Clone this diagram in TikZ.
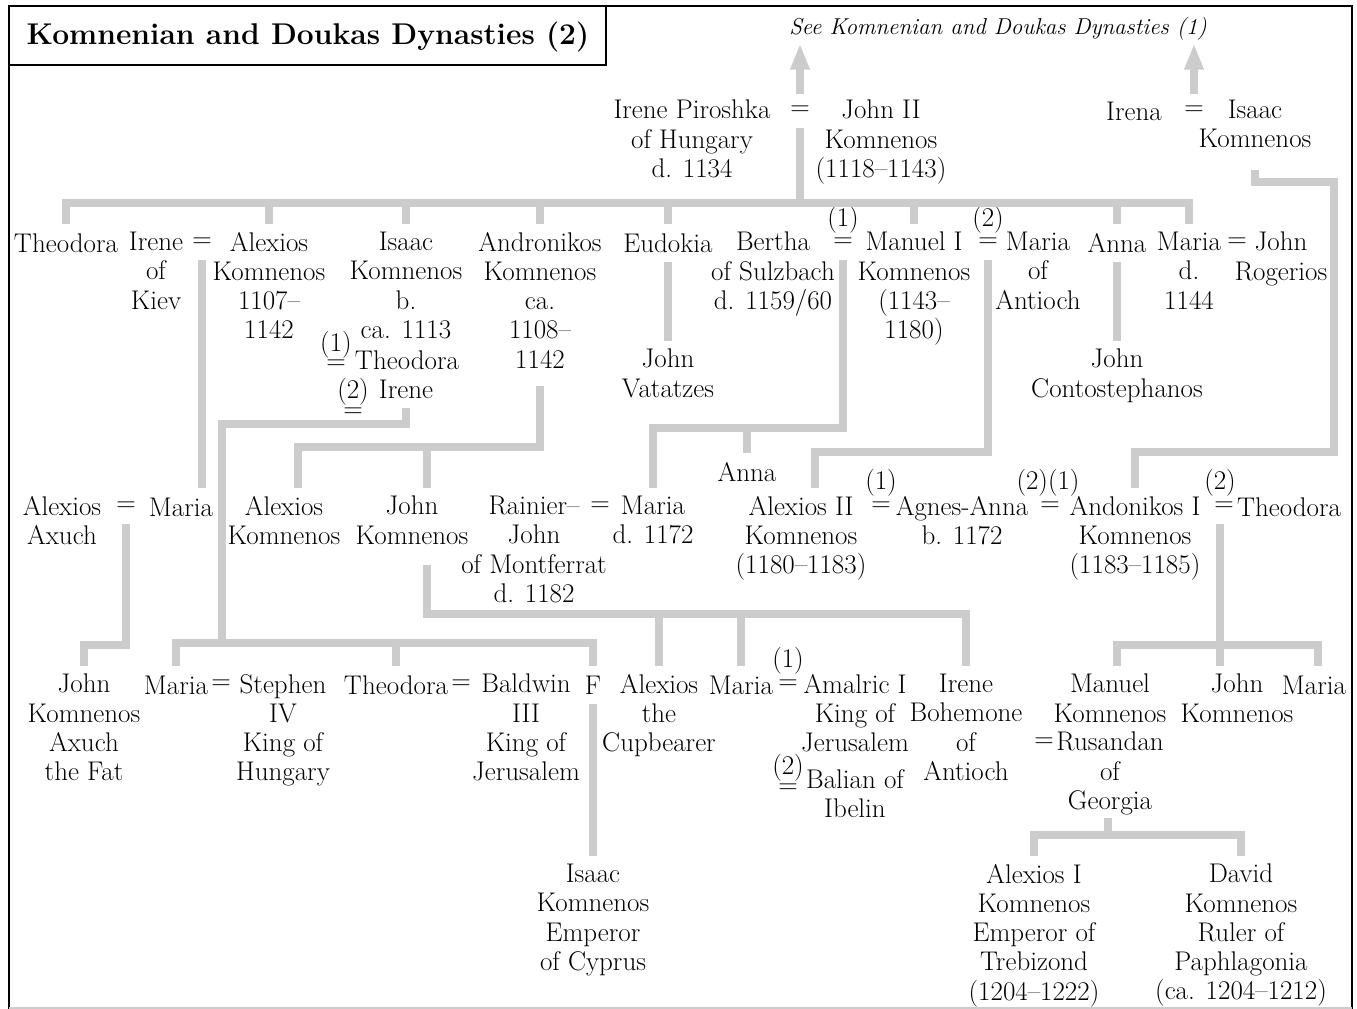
\documentclass[tikz,border=0pt]{standalone}
\usetikzlibrary{arrows.meta}
\definecolor{kingray}{HTML}{CCCCCC}
\newcommand{\chartfont}{\fontsize{27}{29.2}\selectfont}

\begin{document}
\begin{tikzpicture}[x=1pt,y=-1pt,
    pers/.style={align=center,inner sep=0pt,anchor=north,yshift=11pt,font=\chartfont,execute at begin node=\strut},
    wed/.style={inner sep=0pt,font=\chartfont},
    kin/.style={kingray,line width=8pt},
    drop/.style={kin,shorten >=8pt},
    fromeq/.style={shorten <=12pt},
    fromtxt/.style={shorten <=8pt},
    up/.style={kin,fromeq,-{Triangle[width=18pt,length=26pt]}}]
  \useasboundingbox (0,0) rectangle (1357,1009);
  \draw[line width=2pt] (9,1009) -- (9,6) -- (1352,6) -- (1352,1009);
  \draw[kingray,line width=1.5pt] (9,1008) -- (1352,1008);
  \draw[line width=1.5pt] (9,6) rectangle (606,65);
  \node[font=\fontsize{30}{36}\selectfont\bfseries,inner sep=0pt] (ttl) at (308,37) {Komnenian and Doukas Dynasties (2)};
  \node[pers,font=\fontsize{23}{29.2}\selectfont\itshape] (see) at (998,25) {See Komnenian and Doukas Dynasties (1)};

  % generation 1
  \node[pers] (irP) at (692,111) {Irene Piroshka\\of Hungary\\d. 1134};
  \node[wed] (eqJ) at (800,111) {=};
  \node[pers] (johnII) at (881,111) {John II\\Komnenos\\(1118--1143)};
  \node[pers] (irena) at (1134,111) {Irena};
  \node[wed] (eqI) at (1194,111) {=};
  \node[pers] (isaacK) at (1255,111) {Isaac\\Komnenos};

  % generation 2
  \node[pers] (theo) at (66,243) {Theodora};
  \node[pers] (ireneK) at (156,243) {Irene\\of\\Kiev};
  \node[wed] (eqA) at (202,243) {=};
  \node[pers] (alexK) at (269,243) {Alexios\\Komnenos\\1107--\\1142};
  \node[pers] (isaacB) at (406,243) {Isaac\\Komnenos\\b.\\ca. 1113};
  \node[wed] (n1a) at (336,345) {(1)};
  \node[wed] (eq1a) at (336,365) {=};
  \node[pers] (theoI) at (407,360) {Theodora};
  \node[wed] (n2a) at (353,392) {(2)};
  \node[wed] (eq2a) at (353,413) {=};
  \node[pers] (ireneI) at (406,389) {Irene};
  \node[pers] (andr) at (540,243) {Andronikos\\Komnenos\\ca.\\1108--\\1142};
  \node[pers] (eud) at (668,243) {Eudokia};
  \node[pers] (johnV) at (668,360) {John\\Vatatzes};
  \node[pers] (bertha) at (773,243) {Bertha\\of Sulzbach\\d. 1159/60};
  \node[wed] (n1b) at (843,220) {(1)};
  \node[wed] (eqB) at (843,243) {=};
  \node[pers] (manuel) at (914,243) {Manuel I\\Komnenos\\(1143--\\1180)};
  \node[wed] (n2b) at (988,220) {(2)};
  \node[wed] (eqM) at (988,243) {=};
  \node[pers] (mariaA) at (1038,243) {Maria\\of\\Antioch};
  \node[pers] (anna) at (1117,243) {Anna};
  \node[pers] (johnC) at (1117,360) {John\\Contostephanos};
  \node[pers] (mariaR) at (1189,243) {Maria\\d.\\1144};
  \node[wed] (eqR) at (1237,243) {=};
  \node[pers] (johnR) at (1281,243) {John\\Rogerios};

  % generation 3
  \node[pers] (alexA) at (62,507) {Alexios\\Axuch};
  \node[wed] (eqX) at (126,507) {=};
  \node[pers] (mariaX) at (181,507) {Maria};
  \node[pers] (alexK2) at (284,507) {Alexios\\Komnenos};
  \node[pers] (johnK) at (412,507) {John\\Komnenos};
  \node[pers] (rainier) at (534,507) {Rainier--\\John\\of Montferrat\\d. 1182};
  \node[wed] (eqRa) at (600,507) {=};
  \node[pers] (mariaM) at (653,507) {Maria\\d. 1172};
  \node[pers] (annaM) at (747,472) {Anna};
  \node[pers] (alexII) at (801,507) {Alexios II\\Komnenos\\(1180--1183)};
  \node[wed] (n1c) at (881,483) {(1)};
  \node[wed] (eqAg) at (881,507) {=};
  \node[pers] (agnes) at (962,507) {Agnes-Anna\\b. 1172};
  \node[wed] (n21c) at (1048,483) {(2)(1)};
  \node[wed] (eqAn) at (1050,507) {=};
  \node[pers] (andrI) at (1135,507) {Andonikos I\\Komnenos\\(1183--1185)};
  \node[wed] (n2c) at (1220,483) {(2)};
  \node[wed] (eqTh) at (1224,507) {=};
  \node[pers] (theoA) at (1289,507) {Theodora};

  % generation 4
  \node[pers] (johnAx) at (84,685) {John\\Komnenos\\Axuch\\the Fat};
  \node[pers] (mariaS) at (176,685) {Maria};
  \node[wed] (eqS) at (221,685) {=};
  \node[pers] (stephen) at (283,685) {Stephen\\IV\\King of\\Hungary};
  \node[pers] (theoB) at (396,685) {Theodora};
  \node[wed] (eqBa) at (461,685) {=};
  \node[pers] (baldwin) at (526,685) {Baldwin\\III\\King of\\Jerusalem};
  \node[pers] (fnode) at (593,685) {F};
  \node[pers] (alexC) at (659,685) {Alexios\\the\\Cupbearer};
  \node[pers] (mariaAm) at (741,685) {Maria};
  \node[wed] (n1d) at (788,661) {(1)};
  \node[wed] (eqAm) at (788,685) {=};
  \node[pers] (amalric) at (855,685) {Amalric I\\King of\\Jerusalem};
  \node[wed] (n2d) at (788,768) {(2)};
  \node[wed] (eqBl) at (788,789) {=};
  \node[pers] (balian) at (855,780) {Balian of\\Ibelin};
  \node[pers] (ireneB) at (966,685) {Irene\\Bohemone\\of\\Antioch};
  \node[pers] (manuelK) at (1110,685) {Manuel\\Komnenos};
  \node[wed] (eqRu) at (1044,743) {=};
  \node[pers] (rusandan) at (1110,743) {Rusandan\\of\\Georgia};
  \node[pers] (johnK3) at (1237,685) {John\\Komnenos};
  \node[pers] (mariaL) at (1314,685) {Maria};

  % generation 5
  \node[pers] (isaacC) at (593,875) {Isaac\\Komnenos\\Emperor\\of Cyprus};
  \node[pers] (alexI) at (1034,875) {Alexios I\\Komnenos\\Emperor of\\Trebizond\\(1204--1222)};
  \node[pers] (david) at (1241,875) {David\\Komnenos\\Ruler of\\Paphlagonia\\(ca. 1204--1212)};

  % links
  \coordinate (busJ) at (800,203);
  \coordinate (kI1) at (1334,182);
  \coordinate (kI2) at (1135,452);
  \coordinate (kIr) at (222,424);
  \coordinate (busIr) at (222,643);
  \coordinate (kA1) at (298,447);
  \coordinate (kA2) at (427,447);
  \coordinate (kB) at (653,428);
  \coordinate (kM) at (815,452);
  \coordinate (kX) at (126,645);
  \coordinate (kJ) at (427,614);
  \coordinate (kT) at (1220,645);
  \coordinate (kT1) at (1117,645);
  \coordinate (kT3) at (1318,645);
  \coordinate (kR) at (1108,835);

  \draw[up] (eqJ.north) -- (eqJ |- see.south);
  \draw[up] (eqI.north) -- (eqI |- see.south);
  \draw[kin,fromeq] (eqJ.south) -- (busJ);
  \draw[drop,fromtxt] (theo.north) |- (busJ) -| (mariaR.north);
  \foreach \c in {alexK,isaacB,andr,eud,manuel,anna}
    \draw[drop] (\c.north |- busJ) -- (\c.north);
  \draw[drop,shorten <=13pt] (isaacK.south) |- (kI1) |- (kI2) -- (andrI.north);
  \draw[drop,fromeq] (eqA.south) -- (eqA.south |- mariaX.north);
  \draw[kin] (ireneI.south) |- (kIr) -- (busIr);
  \draw[drop,fromtxt] (mariaS.north) |- (busIr) -| (fnode.north);
  \draw[drop] (theoB.north |- busIr) -- (theoB.north);
  \draw[drop] (fnode.south) -- (isaacC.north);
  \draw[drop,shorten <=9pt] (andr.south) |- (kA1) -- (kA1 |- alexK2.north);
  \draw[drop] (kA2) -- (kA2 |- johnK.north);
  \draw[drop] (eud.south) -- (johnV.north);
  \draw[drop] (anna.south) -- (johnC.north);
  \draw[drop,fromeq] (eqB.south) |- (kB) -- (mariaM.north);
  \draw[drop] (annaM.north |- kB) -- (annaM.north);
  \draw[drop,fromeq] (eqM.south) |- (kM) -- (kM |- alexII.north);
  \draw[drop,fromeq] (eqX.south) -- (kX) -| (johnAx.north);
  \draw[drop,shorten <=12pt] (kJ |- johnK.south) -- (kJ) -| (ireneB.north);
  \foreach \c in {alexC,mariaAm}
    \draw[drop] (\c.north |- kJ) -- (\c.north);
  \draw[drop,fromeq] (kT |- eqTh.south) -- (kT |- johnK3.north);
  \draw[drop,fromtxt] (kT1 |- manuelK.north) |- (kT3) -- (kT3 |- mariaL.north);
  \draw[kin] (kR |- rusandan.south) -- (kR);
  \draw[drop,fromtxt] (alexI.north) |- (kR) -| (david.north);
\end{tikzpicture}
\end{document}
